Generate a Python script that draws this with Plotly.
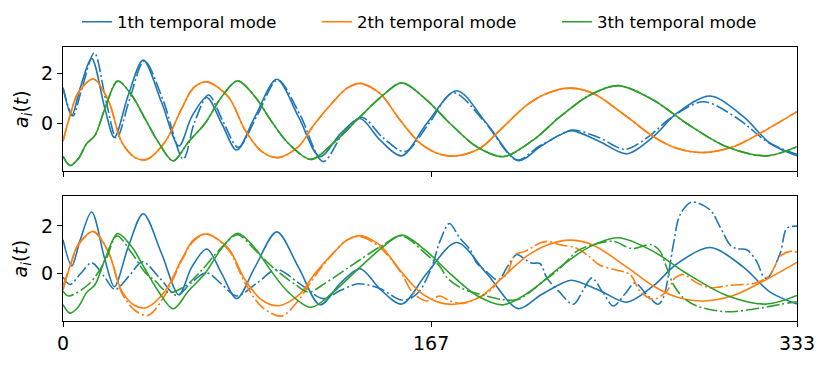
import plotly.graph_objects as go

# ---------------- data ----------------
x_ticks = [0, 167, 333]
x_tick_labels = ["0", "167", "333"]
legend_names = ["1th temporal mode", "2th temporal mode", "3th temporal mode"]

# true temporal modes (solid, both panels)
t_m1 = [0, 4.0, 7.7, 13, 19, 23.3, 29.6, 36.4, 44.8, 52.6, 58.4, 65.2, 72, 78.8, 87.1, 97,
        106.8, 116.6, 126, 134.8, 143.8, 153.7, 165, 178.6, 192.2, 206.6, 216.4, 225.5, 230.8,
        243.6, 255.8, 267.8, 278.4, 293.6, 308.7, 320.8, 333]
v_m1 = [1.42, 0.32, 1.38, 2.58, 0.59, -0.55, 1.12, 2.51, 0.82, -0.89, 0.27, 1.03, 0.0, -1.05, 0.27, 1.75,
        0.27, -1.31, -0.39, 0.2, -0.65, -1.28, 0.0, 1.3, 0.0, -1.47, -0.92, -0.45, -0.28,
        -0.72, -1.2, -0.52, 0.4, 1.09, 0.27, -0.78, -1.28]

t_m2 = [0, 3.2, 7, 13.8, 20.6, 26.6, 32.7, 38, 46.3, 53.9, 59.1, 65.2, 75, 82.6, 90.2, 97.7,
        106.8, 114.3, 122.6, 128.7, 134.8, 143.8, 152.9, 162, 171, 178.6, 189.2, 198.3, 210.4,
        219.5, 230, 240.6, 255.8, 267.8, 278.4, 290.4, 304.1, 316.2, 333]
v_m2 = [-0.7, 0.32, 1.24, 1.76, 0.91, -0.73, -1.35, -1.42, -0.73, 0.6, 1.4, 1.65, 1.06, -0.26, -1.11, -1.35,
        -0.92, 0.0, 0.86, 1.39, 1.59, 1.19, 0.14, -0.78, -1.22, -1.28, -0.98, -0.26, 0.73,
        1.19, 1.4, 1.19, 0.27, -0.52, -0.98, -1.15, -0.92, -0.39, 0.47]

t_m3 = [0, 3.2, 7, 10.7, 14.5, 19, 24.8, 31.2, 37.2, 43.2, 50, 56.9, 64.4, 72, 79.2, 87.1,
        94.7, 102.2, 112.5, 122.6, 134.8, 145.3, 153.7, 165, 175.6, 187.7, 199.8, 213.4, 225.5,
        239.1, 252, 267.8, 283, 301.1, 319.3, 333]
v_m3 = [-1.3, -1.66, -1.39, -0.8, -0.47, 0.59, 1.68, 1.12, 0.19, -0.73, -1.48, -0.73, 0.0, 1.06, 1.69, 1.06,
        0.07, -0.78, -1.42, -0.78, 0.27, 1.13, 1.61, 0.93, 0.0, -0.92, -1.31, -0.65, 0.27,
        1.13, 1.5, 0.93, 0.0, -0.92, -1.28, -0.92]

# reconstructed mode 1 (dash-dot, top panel)
t_m1_rec = [0, 4.5, 8.3, 14.2, 19.5, 24.3, 30.2, 36.9, 45.5, 54.6, 59.5, 66, 72.5, 79.5, 88, 97.4,
            107.5, 118, 127, 135.5, 145, 155.2, 166, 177, 191, 205.9, 216, 225.5, 231,
            243, 255, 266, 275.4, 290.5, 306, 320, 333]
v_m1_rec = [1.42, 0.3, 1.3, 2.8, 0.9, -0.58, 0.95, 2.48, 0.9, -1.41, 0.0, 1.13, 0.1, -0.94, 0.3, 1.72,
            0.35, -1.51, -0.4, 0.25, -0.55, -1.11, 0.0, 1.22, 0.1, -1.44, -0.9, -0.45, -0.26,
            -0.55, -1.02, -0.5, 0.2, 0.86, 0.2, -0.75, -1.22]

# predicted modes (dash-dot, bottom panel)
t_m1_pred = [0, 3.2, 8, 13, 18.5, 23.6, 30, 36, 44, 51.6, 58, 65.2, 72, 78.8, 88, 97,
             107, 118, 126, 134, 144, 153, 157.4, 161.7, 167.2, 171, 175.3, 180, 184.7, 187.7,
             192.2, 197.5, 202, 205.9, 209.5, 212.6, 216.4, 219.5, 225, 231.5, 236, 239.9, 245,
             249.7, 255, 259.5, 264.5, 270, 272.4, 276.9, 279.9, 285.2, 293.6, 298, 302.6,
             305.7, 310.2, 314.7, 317.7, 319.5, 325.4, 328.4, 333]
v_m1_pred = [-0.15, -0.46, 0.0, 0.45, -0.1, -0.67, -0.1, 0.49, -0.2, -0.92, -0.4, 0.03, -0.45, -0.94, -0.4, 0.17,
             -0.4, -1.05, -0.7, -0.43, -0.64, -1.1, -1.05, -0.74, 0.24, 1.35, 2.1, 1.49, 1.0, 0.44,
             0.07, -0.27, 0.35, 0.8, 0.6, 0.44, 0.42, -0.18, -0.75, -1.29, -0.7, -0.18, -0.8,
             -1.36, -0.85, -0.39, -0.85, -1.29, -1.0, 1.21, 2.46, 3.0, 2.67, 1.97, 1.21,
             1.04, 1.0, 0.51, -0.11, -0.2, 0.86, 1.9, 1.99]

t_m2_pred = [0, 3.2, 7, 13.8, 20.6, 26.6, 32.7, 38.7, 46.3, 53.9, 59.1, 65.2, 75, 82.6, 90.2, 99.2,
             107, 114.3, 122.6, 128.7, 134.8, 143.8, 152.9, 158.8, 164.9, 171, 175.5, 181.5, 189,
             194, 198.3, 201.3, 205.1, 209.6, 216.4, 219.5, 225.5, 232.7, 238.7, 243.2, 250,
             257.3, 261.8, 267.8, 273.9, 277.7, 281.4, 287.5, 293.6, 302.6, 314.7, 320.8, 325.4,
             329.9, 333]
v_m2_pred = [-0.5, 0.3, 1.2, 1.76, 0.9, -0.8, -1.55, -1.75, -0.9, 0.55, 1.35, 1.67, 1.0, -0.4, -1.4, -1.78,
             -1.1, -0.1, 0.85, 1.4, 1.55, 1.1, 0.1, -0.81, -1.15, -0.94, -1.15, -1.25, -1.0,
             -0.7, -0.25, -0.04, 0.79, 0.93, 1.28, 1.35, 1.21, 1.07, 0.72, 0.37, 0.17,
             -0.04, -0.74, -1.08, -0.74, -0.18, -0.04, -0.39, -0.6, -0.49, -0.39, -0.04, 0.72,
             0.93, 0.9]

t_m3_pred = [0, 2.4, 11.5, 19.1, 24.4, 31.2, 37.2, 41.7, 47.8, 55, 62.5, 72, 79.2, 87, 94.7,
             105.3, 111.5, 119, 130.3, 145.2, 153.7, 165, 171, 174.3, 180.5, 189.5, 198.5, 206,
             210.4, 217.9, 224, 230, 233, 240, 249.7, 258, 267, 270.9, 273.9, 276.9, 281.4,
             287.5, 301, 317.7, 325.4, 333]
v_m3_pred = [-0.74, -0.94, -0.46, 0.51, 1.58, 0.86, 0.05, -0.3, -0.8, -0.55, 0.1, 1.1, 1.63, 1.0, 0.3,
             -0.46, -0.78, -0.4, 0.3, 1.2, 1.58, 0.79, 0.3, -0.18, -0.6, -0.88, -1.08, -1.1,
             -0.88, -0.32, 0.1, 0.65, 0.93, 1.2, 1.35, 1.05, 1.21, 0.93, 0.24, -0.46, -1.01,
             -1.36, -1.6, -1.43, -1.29, -1.18]

# ---------------- styling ----------------
colors = ["#1f77b4", "#ff7f0e", "#2ca02c"]
LW = 1.6
DASHDOT = "13px,3px,2px,3px"
FONT = "DejaVu Sans"

fig = go.Figure()

def add(t, v, color, row_axis, dash=None, name=None, show=False):
    xa, ya = ("x", "y") if row_axis == 1 else ("x2", "y2")
    fig.add_trace(go.Scatter(
        x=t, y=v, mode="lines", xaxis=xa, yaxis=ya,
        line=dict(color=color, width=LW, dash=dash or "solid", shape="spline", smoothing=0.9),
        name=name, showlegend=show, legendgroup=name, hoverinfo="skip"))

true_modes = [(t_m1, v_m1), (t_m2, v_m2), (t_m3, v_m3)]
top_rec = [(t_m1_rec, v_m1_rec), (t_m2, v_m2), (t_m3, v_m3)]
bot_pred = [(t_m1_pred, v_m1_pred), (t_m2_pred, v_m2_pred), (t_m3_pred, v_m3_pred)]

for i in range(3):
    add(*true_modes[i], colors[i], 1, name=legend_names[i], show=True)
    add(*top_rec[i], colors[i], 1, dash=DASHDOT, name=legend_names[i])
for i in range(3):
    add(*true_modes[i], colors[i], 2, name=legend_names[i])
    add(*bot_pred[i], colors[i], 2, dash=DASHDOT, name=legend_names[i])

axis_common = dict(showline=True, linecolor="black", linewidth=1.1, mirror=True,
                   ticks="outside", ticklen=5, tickwidth=1.1, tickcolor="black",
                   showgrid=False, zeroline=False, automargin=False,
                   tickfont=dict(family=FONT, size=19, color="black"))

# the page body adds an 8px margin, so the figure is sized to fit inside the window
fig.update_layout(
    width=814, height=349,
    margin=dict(l=55, r=25, t=39, b=36, autoexpand=False),
    plot_bgcolor="white", paper_bgcolor="white",
    font=dict(family=FONT, color="black"),
    xaxis=dict(domain=[0, 1], range=[0, 333], anchor="y", tickvals=x_ticks,
               showticklabels=False, **axis_common),
    xaxis2=dict(domain=[0, 1], range=[0, 333], anchor="y2", tickvals=x_ticks,
                ticktext=x_tick_labels, **axis_common),
    yaxis=dict(domain=[0.547, 1], range=[-1.885, 3.03], tickvals=[0, 2], anchor="x", **axis_common),
    yaxis2=dict(domain=[0, 0.456], range=[-1.99, 3.25], tickvals=[0, 2], anchor="x2", **axis_common),
    legend=dict(orientation="h", x=0.019, xanchor="left", y=1.091, yanchor="middle",
                font=dict(family=FONT, size=16.5, color="black"),
                entrywidth=195, entrywidthmode="pixels", bgcolor="rgba(0,0,0,0)",
                tracegroupgap=0),
    annotations=[
        dict(text="<i>a</i><sub><i>i</i></sub>(<i>t</i>)", xref="paper", yref="y domain",
             x=-0.056, y=0.5, xanchor="center", yanchor="middle", textangle=-90,
             showarrow=False, font=dict(family=FONT, size=19, color="black")),
        dict(text="<i>a</i><sub><i>i</i></sub>(<i>t</i>)", xref="paper", yref="y2 domain",
             x=-0.056, y=0.5, xanchor="center", yanchor="middle", textangle=-90,
             showarrow=False, font=dict(family=FONT, size=19, color="black")),
    ],
)

fig.write_html("out.html")
